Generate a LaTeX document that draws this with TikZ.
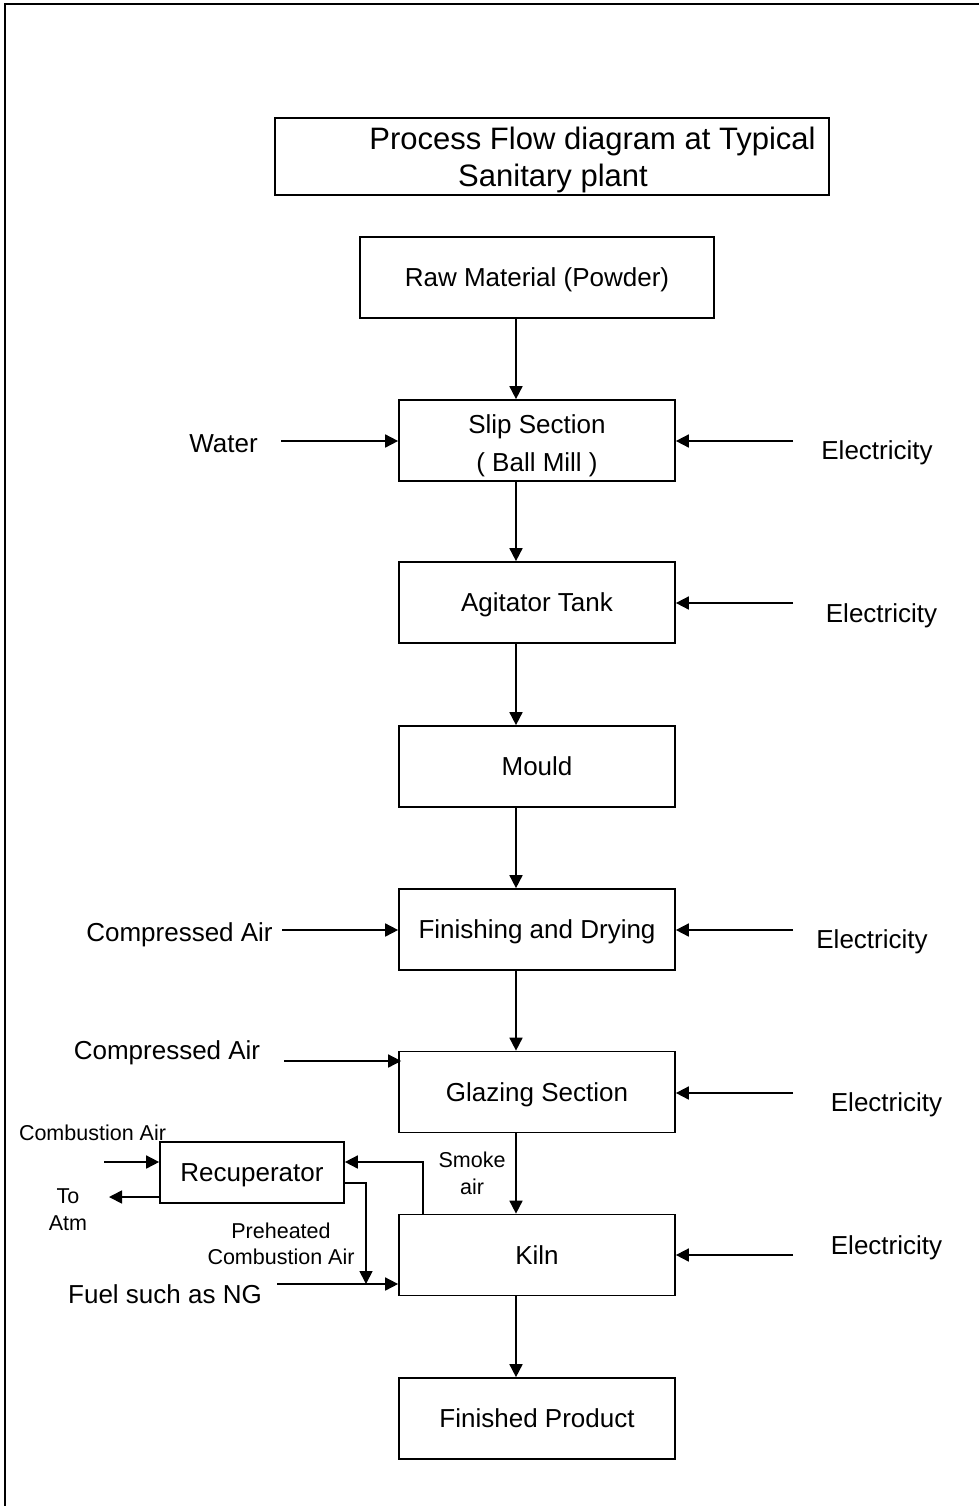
\documentclass[tikz,border=0pt]{standalone}
\usepackage{fontspec}
\setmainfont{Liberation Sans}
\usetikzlibrary{arrows.meta}
\begin{document}
\begin{tikzpicture}[x=1pt,y=-1pt,
  line width=1.7pt,
  box/.style={draw,line width=1.7pt,rectangle,minimum width=276pt,minimum height=81pt,inner sep=0pt,align=center,font=\fontsize{26}{38}\selectfont,text height=18.7pt,text depth=0pt},
  lbl/.style={inner sep=0pt,align=center,font=\fontsize{26}{30}\selectfont,text height=18.7pt,text depth=0pt},
  sml/.style={inner sep=0pt,align=center,font=\fontsize{21.5}{27}\selectfont,text height=15.4pt,text depth=0pt},
  ttl/.style={inner sep=0pt,font=\fontsize{31}{36}\selectfont,text height=22.2pt,text depth=0pt},
  arr/.style={-{Triangle[length=13pt,width=13pt]},line width=1.7pt}]
\useasboundingbox (0,0) rectangle (978,1506);
% outer frame
\draw[line width=1.8pt] (5,1530) -- (5,4) -- (1000,4);
% title
\node[draw,line width=1.7pt,minimum width=554pt,minimum height=77pt,inner sep=0pt] (title) at (552,156.5) {};
\node[ttl] (t1) at (592.5,138) {Process Flow diagram at Typical};
\node[ttl] (t2) at (553,175) {Sanitary plant};
% main boxes
\node[box,minimum width=354pt] (raw) at (537,277.5) {Raw Material (Powder)};
\node[box,text height=61.7pt,text depth=0pt] (slip) at (537,440.5) {Slip Section\\( Ball Mill )};
\node[box] (agit) at (537,602.5) {Agitator Tank};
\node[box] (mould) at (537,766.5) {Mould};
\node[box] (fin) at (537,929.5) {Finishing and Drying};
\node[box] (glaze) at (537,1092) {Glazing Section};
\node[box] (kiln) at (537,1255) {Kiln};
\node[box] (prod) at (537,1418.5) {Finished Product};
% vertical flow
\draw[arr] ([xshift=-21pt]raw.south) -- ([xshift=-21pt]slip.north);
\draw[arr] ([xshift=-21pt]slip.south) -- ([xshift=-21pt]agit.north);
\draw[arr] ([xshift=-21pt]agit.south) -- ([xshift=-21pt]mould.north);
\draw[arr] ([xshift=-21pt]mould.south) -- ([xshift=-21pt]fin.north);
\draw[arr] ([xshift=-21pt]fin.south) -- ([xshift=-21pt]glaze.north);
\draw[arr] ([xshift=-21pt]glaze.south) -- ([xshift=-21pt]kiln.north);
\draw[arr] ([xshift=-21pt]kiln.south) -- ([xshift=-21pt]prod.north);
% electricity inputs
\coordinate (e1) at (793,441);
\coordinate (e2) at (793,603);
\coordinate (e3) at (793,930);
\coordinate (e4) at (793,1093);
\coordinate (e5) at (793,1255);
\draw[arr] (e1) -- (e1 -| slip.east);
\draw[arr] (e2) -- (e2 -| agit.east);
\draw[arr] (e3) -- (e3 -| fin.east);
\draw[arr] (e4) -- (e4 -| glaze.east);
\draw[arr] (e5) -- (e5 -| kiln.east);
\node[lbl] (el1) at (877,450) {Electricity};
\node[lbl] (el2) at (881.5,613) {Electricity};
\node[lbl] (el3) at (872,939) {Electricity};
\node[lbl] (el4) at (886.5,1102) {Electricity};
\node[lbl] (el5) at (886.5,1245) {Electricity};
% left inputs
\node[lbl] (water) at (223.5,443) {Water};
\coordinate (w0) at (281,441);
\draw[arr] (w0) -- (w0 -| slip.west);
\node[lbl] (ca1) at (179.5,932) {Compressed Air};
\coordinate (c1) at (282,930);
\draw[arr] (c1) -- (c1 -| fin.west);
\node[lbl] (ca2) at (167,1050) {Compressed Air};
\coordinate (c2) at (284,1061);
\draw[arr] (c2) -- ([xshift=3pt]glaze.north west |- c2);
% recuperator
\node[draw,line width=1.7pt,minimum width=184pt,minimum height=61pt,inner sep=0pt,font=\fontsize{26}{30}\selectfont,text height=18.7pt,text depth=0pt] (rec) at (252,1172.5) {Recuperator};
\node[sml] (comb) at (92.5,1133) {Combustion Air};
\coordinate (ca) at (104,1162);
\draw[arr] (ca) -- (ca -| rec.west);
\coordinate (atm) at (109,1197);
\draw[arr] (atm -| rec.west) -- (atm);
\node[sml] (to) at (68,1196) {To};
\node[sml] (atmt) at (68,1223) {Atm};
% smoke air
\coordinate (sk) at (423,1162);
\draw[arr] (sk |- kiln.north) -- (sk) -- (sk -| rec.east);
\node[sml] (smoke) at (472,1160) {Smoke};
\node[sml] (air) at (472,1187) {air};
% fuel
\node[lbl] (fuel) at (165,1294) {Fuel such as NG};
\coordinate (f0) at (277,1284);
\draw[arr] (f0) -- (f0 -| kiln.west);
% preheated
\coordinate (ph) at (366,1183);
\draw[arr] (ph -| rec.east) -- (ph) -- (ph |- f0);
\node[sml] (pre1) at (281,1231) {Preheated};
\node[sml] (pre2) at (281,1257) {Combustion Air};
\end{tikzpicture}
\end{document}
